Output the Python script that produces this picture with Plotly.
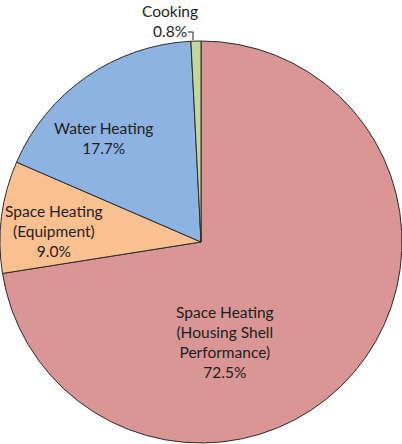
import plotly.graph_objects as go

labels = ["Space Heating<br>(Housing Shell<br>Performance)", "Space Heating<br>(Equipment)", "Water Heating", "Cooking"]
values = [72.5, 9.0, 17.7, 0.8]
colors = ["#D99694", "#FAC08F", "#8DB3E2", "#C3D69B"]

W, H = 402, 444

fig = go.Figure(go.Pie(
    labels=labels,
    values=values,
    sort=False,
    direction="clockwise",
    rotation=0,
    marker=dict(colors=colors, line=dict(color="#2b2b2b", width=1)),
    textinfo="none",
    hoverinfo="label+percent",
    domain=dict(x=[0, 1], y=[0, 404 / 444]),
    showlegend=False,
))

# label anchor points (pixels from top-left)
label_pos = [(225, 342), (54, 231), (103, 138), (170, 21)]
annotations = []
for lab, val, (px, py) in zip(labels, values, label_pos):
    annotations.append(dict(
        x=px / W, y=1 - py / H, xref="paper", yref="paper",
        text=f"{lab}<br>{val:.1f}%", showarrow=False,
        font=dict(family="Lato, Open Sans, sans-serif", size=15.5, color="#1e1e1e"),
        align="center", xanchor="center", yanchor="middle",
    ))

fig.update_layout(
    width=W, height=H,
    margin=dict(l=0, r=0, t=0, b=0),
    paper_bgcolor="white", plot_bgcolor="white",
    annotations=annotations,
    shapes=[dict(
        type="path", xref="paper", yref="paper",
        path=f"M {188/W} {1-32/H} L {193/W} {1-32/H} L {193/W} {1-40/H}",
        line=dict(color="#1e1e1e", width=1),
    )],
)

fig.write_html("out.html")
